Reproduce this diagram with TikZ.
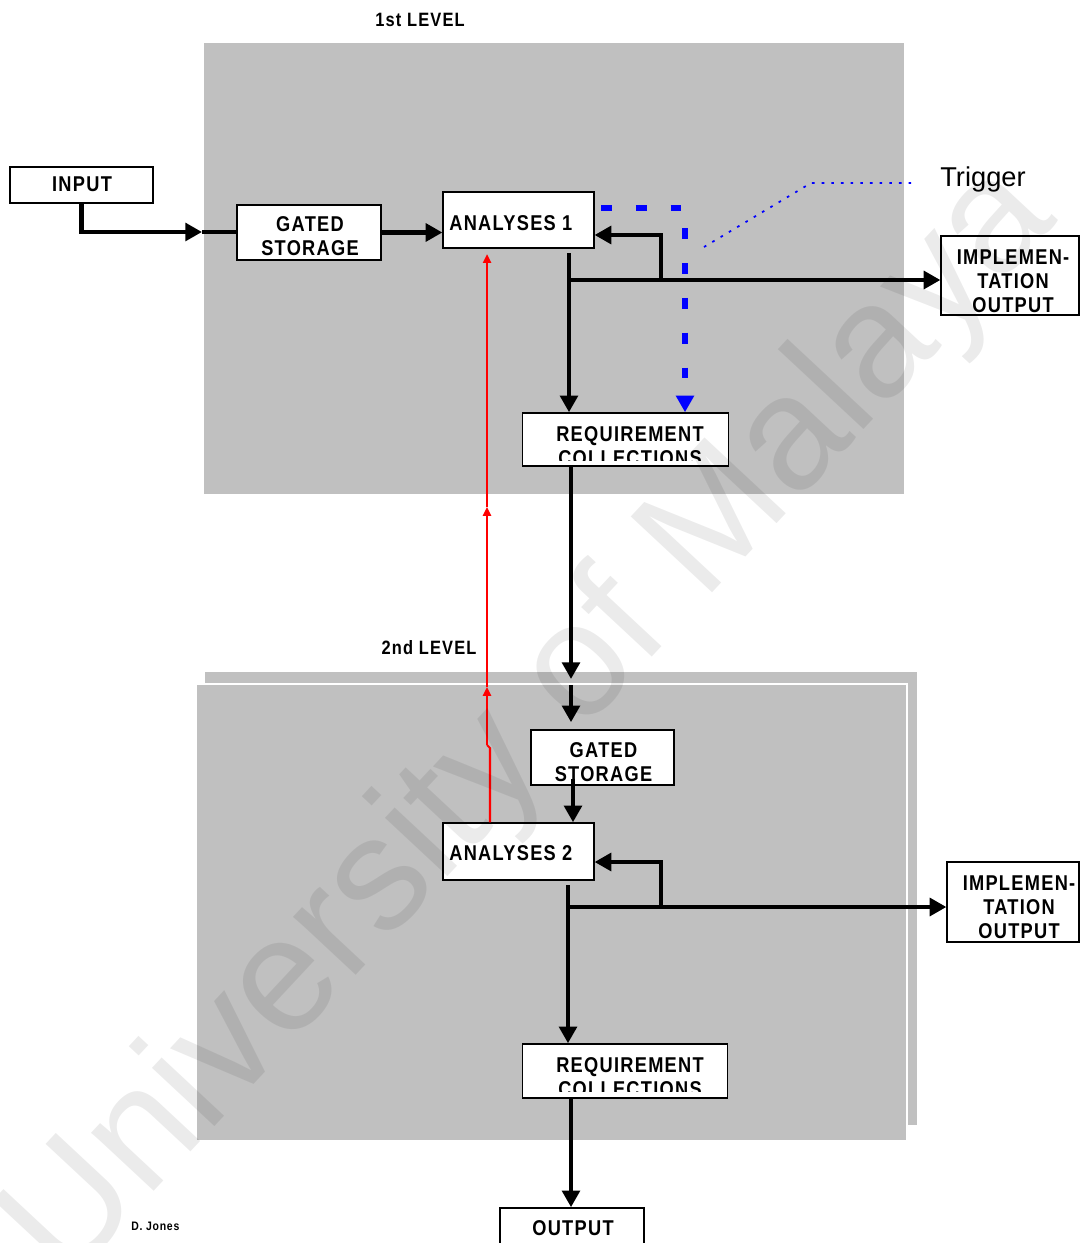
\documentclass[tikz,border=0pt]{standalone}
\usepackage{fontspec}
\setmainfont{Liberation Sans}
\newfontfamily\lab[FakeStretch=0.85,LetterSpace=6]{Liberation Sans}
\usetikzlibrary{arrows.meta}
\definecolor{panel}{HTML}{C0C0C0}
\definecolor{trigblue}{HTML}{0000FF}
\begin{document}
\begin{tikzpicture}[x=0.02cm,y=-0.02cm,
  box/.style={draw=black,line width=1pt,fill=white,inner sep=0pt},
  lbltext/.style={inner sep=0pt,align=center,font=\lab\bfseries\fontsize{12.2}{13.6}\selectfont},
  lvl/.style={inner sep=0pt,font=\lab\bfseries\fontsize{11}{13}\selectfont},
  flow/.style={line width=2.8pt,-{Triangle[length=9.5pt,width=10pt]}},
  bline/.style={line width=2.8pt},
  redl/.style={red,line width=1.2pt,-{Triangle[length=5pt,width=4.5pt]}},
  trigl/.style={trigblue,line width=3pt,dash pattern=on 6.2pt off 13.6pt,-{Triangle[length=9.5pt,width=10pt]}},
  dotl/.style={trigblue,line width=1pt,dash pattern=on 1.5pt off 4pt},
]
\useasboundingbox (0,0) rectangle (1081,1243);
\fill[white] (0,0) rectangle (1081,1243);

% panels
\fill[panel] (204,43) rectangle (904,494);
\fill[panel] (205,672) rectangle (917,1125);
\filldraw[fill=panel,draw=white,line width=1.2pt] (196,684) rectangle (907,1141);

% level labels
\node[lvl] (lvl1) at (420,20) {1st LEVEL};
\node[lvl] (lvl2) at (429,648) {2nd LEVEL};

% boxes level 1
\node[box,minimum width=81.07pt,minimum height=20.41pt] (input) at (81.5,185) {};
\node[lbltext] (inputt) at (82,184.5) {INPUT};
\node[box,minimum width=81.63pt,minimum height=31.18pt] (gs1) at (309,232.5) {};
\node[lbltext] (gs1t) at (310,236.5) {GATED\\STORAGE};
\node[box,minimum width=85.6pt,minimum height=31.75pt] (a1) at (518.5,220) {};
\node[lbltext,anchor=west] (a1t) at (449,223.5) {ANALYSES 1};
\node[box,minimum width=78.2pt,minimum height=44.8pt] (impl1) at (1010,275.5) {};
\node[lbltext] (impl1t) at (1013,281) {IMPLEMEN-\\TATION\\OUTPUT};
\node[box,minimum width=117.35pt,minimum height=30.05pt] (req1) at (625.5,439.5) {};
\begin{scope}
  \clip (522,414) rectangle (729,460);
  \node[lbltext,anchor=base] (req1a) at (630,441) {REQUIREMENT};
  \node[lbltext,anchor=base] (req1b) at (630,465) {COLLECTIONS};
\end{scope}

% trigger label
\node[inner sep=0pt,anchor=base west,font=\fontsize{15.5}{18}\selectfont] (trg) at (940,187) {Trigger};

% boxes level 2
\node[box,minimum width=81.07pt,minimum height=31.18pt] (gs2) at (602.5,757.5) {};
\node[lbltext] (gs2t) at (603.5,762) {GATED\\STORAGE};
\node[box,minimum width=85.6pt,minimum height=32.3pt] (a2) at (518.5,851.5) {};
\node[lbltext,anchor=west] (a2t) at (449,853.5) {ANALYSES 2};
\node[box,minimum width=74.8pt,minimum height=45.35pt] (impl2) at (1013,902) {};
\node[lbltext] (impl2t) at (1019,907.5) {IMPLEMEN-\\TATION\\OUTPUT};
\node[box,minimum width=116.8pt,minimum height=30.6pt] (req2) at (625,1071) {};
\begin{scope}
  \clip (522,1045) rectangle (728,1091);
  \node[lbltext,anchor=base] (req2a) at (630,1072) {REQUIREMENT};
  \node[lbltext,anchor=base] (req2b) at (630,1096) {COLLECTIONS};
\end{scope}
\node[box,minimum width=81.6pt,minimum height=29.5pt] (output) at (572,1234) {};
\node[lbltext,anchor=base] (outt) at (573,1235) {OUTPUT};

\node[inner sep=0pt,anchor=base west,font=\lab\bfseries\fontsize{7}{8}\selectfont] (auth) at (131,1230) {D. Jones};

% coordinates
\coordinate (p1) at (202,232);
\coordinate (j1) at (569,280);
\coordinate (f1) at (661,280);
\coordinate (f1t) at (661,235);
\coordinate (bl0) at (601,208);
\coordinate (bl1) at (685,208);
\coordinate (d1) at (704,247);
\coordinate (d2) at (811,183);
\coordinate (d3) at (913,183);
\coordinate (r0) at (490,748);
\coordinate (r0b) at (487,745);
\coordinate (r1) at (487,687);
\coordinate (r2) at (487,507);
\coordinate (k1) at (571,679);
\coordinate (k2) at (571,685);
\coordinate (m1) at (573,800);
\coordinate (j2) at (568,907);
\coordinate (f2) at (661,907);
\coordinate (f2t) at (661,862);
\coordinate (o1) at (571,1150);

% level 1 connectors
\draw[flow] (input.south) |- (p1);
\draw[bline] (p1) -- (gs1.west |- p1);
\draw[flow] (gs1.east) -- (gs1.east -| a1.west);
\draw[flow,shorten <=2.5pt] (a1.south -| j1) -- (req1.north -| j1);
\draw[flow] (j1) -- (j1 -| impl1.west);
\draw[flow] (f1) -- (f1t) -- (a1.east |- f1t);
\draw[trigl] (bl0) -- (bl1) -- (req1.north -| bl1);
\draw[dotl] (d1) -- (d2) -- (d3);

% between levels
\draw[flow] (req1.south -| k1) -- (k1);
\draw[flow,shorten >=4pt] (k2) -- (gs2.north -| k2);
\draw[red,line width=1.2pt] (a2.north -| r0) -- (r0) -- (r0b);
\draw[redl] (r0b) -- (r1);
\draw[redl] (r1) -- (r2);
\draw[redl,shorten >=3pt] (r2) -- (a1.south -| r2);

% level 2 connectors
\draw[flow] ([yshift=4pt]gs2.south -| m1) -- (a2.north -| m1);
\draw[flow,shorten <=2.5pt] (a2.south -| j2) -- (req2.north -| j2);
\draw[flow] (j2) -- (j2 -| impl2.west);
\draw[flow] (f2) -- (f2t) -- (a2.east |- f2t);
\draw[flow] (req2.south -| o1) -- (output.north -| o1);

% watermark
\node[anchor=base,rotate=47,inner sep=0pt,text=black,text opacity=0.08,
  font=\fontsize{92}{100}\selectfont] (wm) at (563,753) {University of Malaya};
\end{tikzpicture}
\end{document}
